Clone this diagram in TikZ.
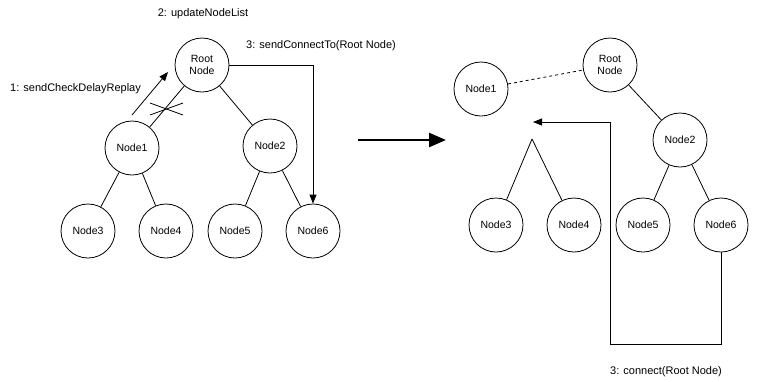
\documentclass[tikz,border=0pt]{standalone}
\usepackage{fontspec}
\setmainfont{Liberation Sans}
\usetikzlibrary{arrows.meta}
\begin{document}
\begin{tikzpicture}[x=1pt,y=-1pt,
  tnode/.style={circle,draw,line width=0.8pt,minimum size=54pt,inner sep=0pt,font=\fontsize{10.5}{12.5}\selectfont,align=center},
  edge/.style={line width=0.8pt},
  lbl/.style={font=\fontsize{11}{13}\selectfont,inner sep=0pt},
  arr/.style={line width=0.8pt,-{Triangle[length=9pt,width=7pt]}}]
\useasboundingbox (0,0) rectangle (758,381);
% left tree
\node[tnode] (lroot) at (202,65) {Root\\Node};
\node[tnode] (l1) at (132,148) {Node1};
\node[tnode] (l2) at (270,146) {Node2};
\node[tnode] (l3) at (88,231) {Node3};
\node[tnode] (l4) at (166,231) {Node4};
\node[tnode] (l5) at (235,231) {Node5};
\node[tnode] (l6) at (313,231) {Node6};
\draw[edge] (lroot) -- (l1);
\draw[edge] (lroot) -- (l2);
\draw[edge] (l1) -- (l3);
\draw[edge] (l1) -- (l4);
\draw[edge] (l2) -- (l5);
\draw[edge] (l2) -- (l6);
% cross mark
\coordinate (xa) at (150,103); \coordinate (xb) at (183,115);
\coordinate (xc) at (150,115); \coordinate (xd) at (183,103);
\draw[edge] (xa) -- (xb);
\draw[edge] (xc) -- (xd);
% arrow 1
\coordinate (a1s) at (132,115); \coordinate (a1e) at (168,72);
\draw[arr] (a1s) -- (a1e);
% arrow 3
\draw[arr] (lroot.east) -| (l6.north);
% labels
\node[lbl] (t2) at (203,14) {2: updateNodeList};
\node[lbl,anchor=west] (t1) at (10,89) {1: sendCheckDelayReplay};
\node[lbl,anchor=west] (t3) at (246,46) {3: sendConnectTo(Root Node)};
% big arrow
\coordinate (bs) at (358,140); \coordinate (be) at (446,140);
\draw[line width=2.6pt,-{Triangle[length=17pt,width=14pt]}] (bs) -- (be);
% right tree
\node[tnode] (rroot) at (610,65) {Root\\Node};
\node[tnode] (r1) at (481,89) {Node1};
\node[tnode] (r2) at (680,140) {Node2};
\node[tnode] (r3) at (496,225) {Node3};
\node[tnode] (r4) at (574,225) {Node4};
\node[tnode] (r5) at (643,225) {Node5};
\node[tnode] (r6) at (721,225) {Node6};
\draw[edge,dashed] (r1) -- (rroot);
\draw[edge] (rroot) -- (r2);
\draw[edge] (r2) -- (r5);
\draw[edge] (r2) -- (r6);
\coordinate (apex) at (532,139);
\draw[edge] (apex) -- (r3);
\draw[edge] (apex) -- (r4);
% connect arrow
\coordinate (b1) at (610,344);
\coordinate (tip) at (533,122);
\draw[arr] (r6.south) |- (b1) |- (tip);
\node[lbl] (t4) at (666,372) {3: connect(Root Node)};
\end{tikzpicture}
\end{document}
